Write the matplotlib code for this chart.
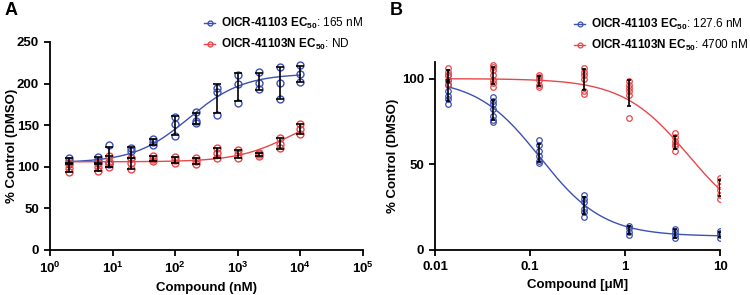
import numpy as np
import matplotlib
matplotlib.use("Agg")
import matplotlib.pyplot as plt

plt.rcParams['font.family'] = ['Liberation Sans', 'DejaVu Sans']
plt.rcParams['mathtext.fontset'] = 'custom'
plt.rcParams['mathtext.rm'] = 'Liberation Sans'
plt.rcParams['mathtext.bf'] = 'Liberation Sans:bold'
plt.rcParams['mathtext.it'] = 'Liberation Sans:italic'

BLUE = '#3d50b4'
RED = '#e8474a'

# ---------------- Panel A data (nM, triplicates) ----------------
dose_a = [2, 5.8, 8.7, 20, 45, 98, 215, 460, 1000, 2150, 4650, 10000]
a_blue = [[111, 107, 103], [112, 107, 104], [126, 106, 103], [123, 119, 110],
          [133, 130, 126], [160, 152, 137], [166, 155, 153], [195, 190, 162],
          [210, 200, 177], [214, 201, 193], [220, 201, 182], [222, 211, 202]]
a_red = [[104, 99, 94], [105, 100, 95], [113, 106, 100], [110, 105, 97],
         [113, 109, 107], [112, 108, 105], [110, 107, 103], [122, 117, 110],
         [120, 115, 110], [117, 115, 113], [135, 128, 122], [152, 146, 140]]
# 4PL fit parameters (bottom, top, EC50, hill)
fit_a_blue = (105, 212, 165, 1.0)
fit_a_red = (106, 169, 7100, 1.0)

# ---------------- Panel B data (uM, replicates) ----------------
dose_b = [0.0137, 0.0412, 0.123, 0.370, 1.11, 3.33, 10]
b_blue = [[102, 99, 96, 93, 90, 88, 85], [89, 87, 85, 82, 78, 76, 74.5],
          [64, 61, 57.5, 54.6, 52, 51], [32, 30, 28, 24, 22, 19.5],
          [14, 12.7, 10.7, 8.8], [12.3, 10.7, 8.8, 6.8], [11, 9.7, 8.8, 7.2]]
b_red = [[106, 104, 102, 99, 97], [108, 107, 105, 102, 99, 97.5, 95],
         [102, 101, 99, 96.5, 95], [106, 104, 102, 100, 93, 91],
         [98.5, 96.5, 94.6, 92.6, 90.6, 77], [68, 65.7, 63.7, 61.8, 60.4, 57.5],
         [42, 40, 37.6, 35, 32, 30]]
fit_b_blue = (8, 100, 0.1276, -1.3)
fit_b_red = (10, 100, 4.7, -1.25)

labels_a = [r"$\mathbf{OICR‐41103\ EC_{50}}$: 165 nM",
            r"$\mathbf{OICR‐41103N\ EC_{50}}$: ND"]
labels_b = [r"$\mathbf{OICR‐41103\ EC_{50}}$: 127.6 nM",
            r"$\mathbf{OICR‐41103N\ EC_{50}}$: 4700 nM"]


def fourpl(x, p):
    b, t, c, h = p
    return b + (t - b) / (1 + (c / x) ** h)


fig = plt.figure(figsize=(7.5, 2.95), dpi=100)
axA = fig.add_axes([50/750, 1-250/295, (363-50)/750, (250-42)/295])
axB = fig.add_axes([435/750, 1-250/295, (720-435)/750, (250-61.5)/295])


def draw(ax, doses, reps, fit, color, label, ms, cap, mew):
    x = np.array(doses, dtype=float)
    xs = np.logspace(np.log10(x.min()), np.log10(x.max()), 300)
    ax.plot(xs, fourpl(xs, fit), color=color, lw=1.0, zorder=2)
    for d, r in zip(doses, reps):
        ax.plot([d]*len(r), r, 'o', mfc='none', mec=color, ms=ms, mew=mew, zorder=3)
    means = [np.mean(r) for r in reps]
    sds = [np.std(r, ddof=1) for r in reps]
    ax.errorbar(doses, means, yerr=sds, fmt='none', ecolor='black',
                elinewidth=1.2, capsize=cap, capthick=1.2, zorder=4)
    ax.plot([], [], '-o', color=color, mfc='none', mec=color, ms=3.5, mew=mew, lw=1.0,
            label=label)


draw(axA, dose_a, a_blue, fit_a_blue, BLUE, labels_a[0], 5, 3, 1.0)
draw(axA, dose_a, a_red, fit_a_red, RED, labels_a[1], 5, 3, 1.0)
draw(axB, dose_b, b_blue, fit_b_blue, BLUE, labels_b[0], 4, 1.5, 0.9)
draw(axB, dose_b, b_red, fit_b_red, RED, labels_b[1], 4, 1.5, 0.9)

for ax in (axA, axB):
    ax.set_xscale('log')
    for s in ('top', 'right'):
        ax.spines[s].set_visible(False)
    for s in ('left', 'bottom'):
        ax.spines[s].set_linewidth(1.3)
    ax.tick_params(which='major', length=4.5, width=1.3, labelsize=9.5, direction='out')
    ax.tick_params(which='minor', length=0)

axA.set_xlim(1, 1e5)
axA.set_ylim(0, 250)
axA.set_xticks([1, 10, 100, 1e3, 1e4, 1e5])
axA.set_xticklabels([r"$\mathbf{10^{%d}}$" % i for i in range(6)])
axA.set_yticks([0, 50, 100, 150, 200, 250])
axA.set_yticklabels(['0', '50', '100', '150', '200', '250'], fontweight='bold')
axA.set_xlabel('Compound (nM)', fontweight='bold', fontsize=9.5, labelpad=4)
axA.set_ylabel('% Control (DMSO)', fontweight='bold', fontsize=9.5, labelpad=-1)

axB.set_xlim(0.01, 10)
axB.set_ylim(0, 110)
axB.set_xticks([0.01, 0.1, 1, 10])
axB.set_xticklabels(['0.01', '0.1', '1', '10'], fontweight='bold')
axB.set_yticks([0, 50, 100])
axB.set_yticklabels(['0', '50', '100'], fontweight='bold')
axB.set_xlabel('Compound [μM]', fontweight='bold', fontsize=9.5, labelpad=4)
axB.set_ylabel('% Control (DMSO)', fontweight='bold', fontsize=9.5, labelpad=2)

legA = axA.legend(loc='upper left', bbox_to_anchor=(197/750, 1-9/295), bbox_transform=fig.transFigure,
                  frameon=False, fontsize=8.5, handlelength=0.95, handletextpad=0.5,
                  labelspacing=0.5, borderaxespad=0.2)
legB = axB.legend(loc='upper left', bbox_to_anchor=(567/750, 1-10/295), bbox_transform=fig.transFigure,
                  frameon=False, fontsize=8.5, handlelength=0.95, handletextpad=0.5,
                  labelspacing=0.5, borderaxespad=0.2)

fig.text(5/750, 1-2/295, 'A', fontsize=13, fontweight='bold', va='top', ha='left')
fig.text(390/750, 1-2/295, 'B', fontsize=13, fontweight='bold', va='top', ha='left')

fig.savefig('out.png', dpi=100)
